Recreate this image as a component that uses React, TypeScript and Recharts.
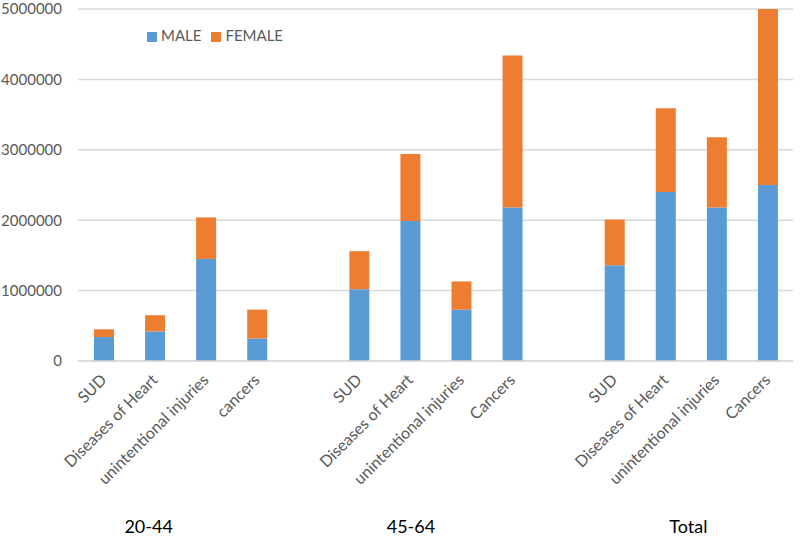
import React from "react";
import { BarChart, Bar, XAxis, YAxis, CartesianGrid, Legend } from "recharts";

const categories = [
  "SUD", "Diseases of Heart", "unintentional injuries", "cancers", "",
  "SUD", "Diseases of Heart", "unintentional injuries", "Cancers", "",
  "SUD", "Diseases of Heart", "unintentional injuries", "Cancers",
];
const maleValues = [
  340000, 420000, 1450000, 320000, null,
  1020000, 1990000, 730000, 2180000, null,
  1360000, 2400000, 2180000, 2500000,
];
const femaleValues = [
  110000, 230000, 590000, 410000, null,
  540000, 950000, 400000, 2160000, null,
  650000, 1190000, 1000000, 2500000,
];
const groupLabels = ["20-44", "45-64", "Total"];
const yTicks = [0, 1000000, 2000000, 3000000, 4000000, 5000000];
const seriesOrder = ["MALE", "FEMALE"];

// which category tick carries each group label, and a horizontal nudge
const groupAnchor: Record<number, { label: string; dx: number }> = {
  1: { label: groupLabels[0], dx: -6 },
  6: { label: groupLabels[1], dx: 1 },
  11: { label: groupLabels[2], dx: 23 },
};

const data = categories.map((c, i) => ({
  id: `c${i}`,
  name: c,
  male: maleValues[i],
  female: femaleValues[i],
}));

const FONT = "Lato, 'Open Sans', sans-serif";

const CatTick = (props: any) => {
  const { x, y, index } = props;
  const name = categories[index] ?? "";
  const ax = x + 4;
  const ay = y + 12;
  const g = groupAnchor[index];
  return (
    <g>
      {name && (
        <text
          x={ax}
          y={ay}
          textAnchor="end"
          transform={`rotate(-45, ${ax}, ${ay})`}
          fill="#595959"
          fontSize={16}
          fontFamily={FONT}
        >
          {name}
        </text>
      )}
      {g && (
        <text
          x={x + g.dx}
          y={y + 164}
          textAnchor="middle"
          fill="#000"
          fontSize={18}
          fontFamily={FONT}
        >
          {g.label}
        </text>
      )}
    </g>
  );
};

export default function App() {
  return (
    <div style={{ position: "absolute", left: 0, top: 0, width: 800, height: 538, background: "#fff" }}>
      <BarChart
        width={800}
        height={538}
        data={data}
        margin={{ top: 9, right: 7, left: 0, bottom: 0 }}
        barSize={20}
      >
        <CartesianGrid vertical={false} stroke="#d9d9d9" strokeWidth={1.5} />
        <XAxis
          dataKey="id"
          height={177}
          interval={0}
          tickLine={false}
          axisLine={{ stroke: "#d9d9d9", strokeWidth: 1.5 }}
          tick={<CatTick />}
        />
        <YAxis
          width={78}
          domain={[0, 5000000]}
          ticks={yTicks}
          tickLine={false}
          axisLine={false}
          tickMargin={10}
          tick={{ fill: "#595959", fontSize: 15, fontFamily: FONT }}
        />
        <Legend
          verticalAlign="middle"
          align="center"
          layout="horizontal"
          iconType="square"
          iconSize={10}
          itemSorter={(item: any) => seriesOrder.indexOf(item.value)}
          wrapperStyle={{ top: 26, left: 140, width: 160, fontFamily: FONT, fontSize: 15 }}
          formatter={(v: string) => <span style={{ color: "#595959" }}>{v}</span>}
        />
        <Bar dataKey="male" name="MALE" stackId="a" fill="#5b9bd5" isAnimationActive={false} />
        <Bar dataKey="female" name="FEMALE" stackId="a" fill="#ed7d31" isAnimationActive={false} />
      </BarChart>
    </div>
  );
}
